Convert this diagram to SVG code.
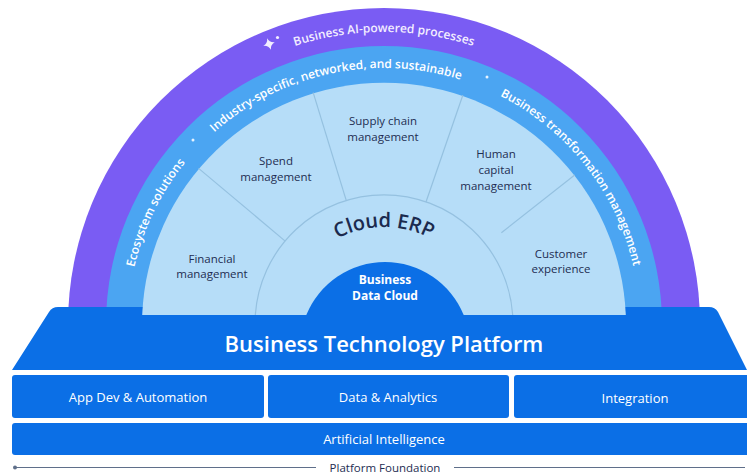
<svg xmlns="http://www.w3.org/2000/svg" width="747" height="475" viewBox="0 0 747 475">
  <style>
    .lbl{font-family:"Open Sans","Noto Sans","Liberation Sans",sans-serif;font-size:11.5px;fill:#1e2d52;text-anchor:middle}
    .arc{font-family:"Open Sans","Noto Sans","Liberation Sans",sans-serif;font-size:12px;font-weight:600;text-anchor:middle}
    .wt{font-family:"Open Sans","Noto Sans","Liberation Sans",sans-serif;fill:#ffffff;text-anchor:middle}
    .box{fill:#0b6fe6}
    .div{stroke:#95c1e0;stroke-width:1.2;fill:none}
  </style>
  <defs>
    <path id="pPurple" d="M131.1,178 A292,292 0 0 1 636.9,178"/>
    <path id="pBlue" d="M128,324 A256,256 0 0 1 640,324"/>
    <path id="pErp" d="M284,327 A100,100 0 0 1 484,327"/>
  </defs>
  <rect width="747" height="475" fill="#ffffff"/>

  <g id="arch">
    <path d="M68,324 A316,316 0 0 1 700,324 Z" fill="#7a5cf3"/>
    <path d="M106,324 A278,278 0 0 1 662,324 Z" fill="#4ba5f2"/>
  </g>

  <g id="btp">
    <path d="M12,370 L49,312 Q52,307 58,307 L709,307 Q715,307 718,312 L747,370 Z" fill="#0b6fe6"/>
    <text class="wt" x="384" y="352" font-size="22" font-weight="600">Business Technology Platform</text>
  </g>

  <g id="cloud-erp">
    <path d="M142.2,315 A242,242 0 0 1 625.8,315 Z" fill="#b6ddf8"/>
  </g>

  <g id="connectors">
    <path class="div" d="M255.3,315 A129,129 0 0 1 512.7,315"/>
    <line class="div" x1="285.2" y1="241.1" x2="198.6" y2="168.4"/>
    <line class="div" x1="346.3" y1="200.6" x2="313.2" y2="92.6"/>
    <line class="div" x1="426.0" y1="202.0" x2="462.8" y2="95.2"/>
    <line class="div" x1="501.4" y1="232.7" x2="574.7" y2="175.0"/>
  </g>

  <g id="ring-labels">
    <path d="M269,38 Q270,43 275,44 Q270,45 269,50 Q268,45 263,44 Q268,43 269,38 Z" fill="#f3eeff" transform="rotate(-18 269 44)"/>
    <circle cx="277.5" cy="37.5" r="1.6" fill="#f3eeff"/>
    <text class="arc" fill="#f3eeff" font-size="12.5"><textPath href="#pPurple" startOffset="50%">Business AI-powered processes</textPath></text>
    <text class="arc" fill="#ffffff" font-size="11.5"><textPath href="#pBlue" startOffset="348">Industry-specific, networked, and sustainable</textPath></text>
    <text class="arc" fill="#ffffff"><textPath href="#pBlue" startOffset="116">Ecosystem solutions</textPath></text>
    <text class="arc" fill="#ffffff"><textPath href="#pBlue" startOffset="634">Business transformation management</textPath></text>
    <circle cx="193" cy="140" r="1.5" fill="#e6f3ff"/>
    <circle cx="487" cy="77" r="1.5" fill="#e6f3ff"/>
  </g>

  <g id="financial">
    <text class="lbl" x="212" y="263">Financial</text>
    <text class="lbl" x="212" y="278">management</text>
  </g>
  <g id="spend">
    <text class="lbl" x="276" y="165">Spend</text>
    <text class="lbl" x="276" y="181">management</text>
  </g>
  <g id="supply-chain">
    <text class="lbl" x="383" y="125">Supply chain</text>
    <text class="lbl" x="383" y="141">management</text>
  </g>
  <g id="human-capital">
    <text class="lbl" x="496" y="158">Human</text>
    <text class="lbl" x="496" y="174">capital</text>
    <text class="lbl" x="496" y="190">management</text>
  </g>
  <g id="customer">
    <text class="lbl" x="561" y="258">Customer</text>
    <text class="lbl" x="561" y="273">experience</text>
  </g>

  <g id="cloud-erp-title">
    <text font-family="'Open Sans','Noto Sans','Liberation Sans',sans-serif" font-size="20" font-weight="600" fill="#1b2a4e" text-anchor="middle"><textPath href="#pErp" startOffset="50%">Cloud ERP</textPath></text>
  </g>

  <g id="business-data-cloud">
    <path d="M306.3,315 A85,85 0 0 1 463.7,315 L463.7,320 L306.3,320 Z" fill="#0b6fe6"/>
    <text class="wt" x="385" y="284" font-size="12" font-weight="700">Business</text>
    <text class="wt" x="385" y="300" font-size="12" font-weight="700">Data Cloud</text>
  </g>

  <g id="app-dev">
    <rect class="box" x="12" y="375" width="252" height="43" rx="3"/>
    <text class="wt" x="138" y="402" font-size="13">App Dev &amp; Automation</text>
  </g>
  <g id="data-analytics">
    <rect class="box" x="268" y="375" width="241" height="43" rx="3"/>
    <text class="wt" x="388" y="402" font-size="13">Data &amp; Analytics</text>
  </g>
  <g id="integration">
    <rect class="box" x="514" y="375" width="240" height="43" rx="3"/>
    <text class="wt" x="635" y="403" font-size="13">Integration</text>
  </g>
  <g id="ai">
    <rect class="box" x="12" y="423" width="742" height="32" rx="3"/>
    <text class="wt" x="384" y="444" font-size="13">Artificial Intelligence</text>
  </g>

  <g id="platform-foundation">
    <line x1="15" y1="467.5" x2="316" y2="467.5" stroke="#5f6f8a" stroke-width="1"/>
    <line x1="454" y1="467.5" x2="745" y2="467.5" stroke="#5f6f8a" stroke-width="1"/>
    <circle cx="15" cy="467.5" r="2" fill="#5f6f8a"/>
    <text class="lbl" x="385" y="472" font-size="12.5" fill="#2a3a5c">Platform Foundation</text>
  </g>
</svg>
